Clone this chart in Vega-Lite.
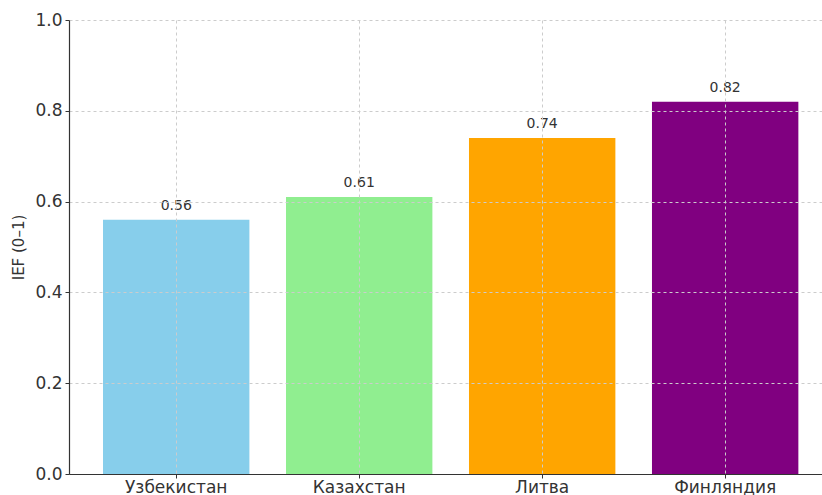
{
  "$schema": "https://vega.github.io/schema/vega-lite/v6.json",
  "autosize": "none",
  "width": 753,
  "height": 454,
  "padding": {"left": 69, "top": 20, "right": 0, "bottom": 21},
  "background": "white",
  "config": {
    "font": "DejaVu Sans",
    "view": {"stroke": null}
  },
  "data": {
    "values": [
      {"country": "Узбекистан", "ief": 0.56, "color": "#87CEEB"},
      {"country": "Казахстан", "ief": 0.61, "color": "#90EE90"},
      {"country": "Литва", "ief": 0.74, "color": "#FFA500"},
      {"country": "Финляндия", "ief": 0.82, "color": "#800080"}
    ]
  },
  "encoding": {
    "x": {
      "field": "country",
      "type": "nominal",
      "sort": null,
      "scale": {"paddingInner": 0.2, "paddingOuter": 0.1575, "align": 0.59},
      "axis": {
        "title": null,
        "labelAngle": 0,
        "labelFontSize": 17,
        "labelColor": "#333333",
        "labelPadding": 1,
        "tickSize": 4,
        "tickColor": "#333333",
        "domainColor": "#333333",
        "domainWidth": 1.2,
        "grid": true,
        "gridDash": [3, 3],
        "gridColor": "#cccccc",
        "gridWidth": 1,
        "zindex": 1
      }
    },
    "y": {
      "field": "ief",
      "type": "quantitative",
      "scale": {"domain": [0, 1], "nice": false},
      "axis": {
        "title": "IEF (0–1)",
        "titleFontSize": 15,
        "titleFontWeight": "normal",
        "titleColor": "#333333",
        "titlePadding": 8,
        "values": [0, 0.2, 0.4, 0.6, 0.8, 1.0],
        "format": ".1f",
        "labelFontSize": 17,
        "labelColor": "#333333",
        "labelPadding": 3,
        "tickSize": 4,
        "tickColor": "#333333",
        "domainColor": "#333333",
        "domainWidth": 1.2,
        "grid": true,
        "gridDash": [3, 3],
        "gridColor": "#cccccc",
        "gridWidth": 1,
        "zindex": 1
      }
    }
  },
  "layer": [
    {
      "mark": {"type": "bar"},
      "encoding": {
        "color": {"field": "color", "type": "nominal", "scale": null, "legend": null}
      }
    },
    {
      "mark": {"type": "text", "dy": -14, "fontSize": 14, "color": "#333333"},
      "encoding": {
        "text": {"field": "ief", "type": "quantitative", "format": ".2f"}
      }
    }
  ]
}
